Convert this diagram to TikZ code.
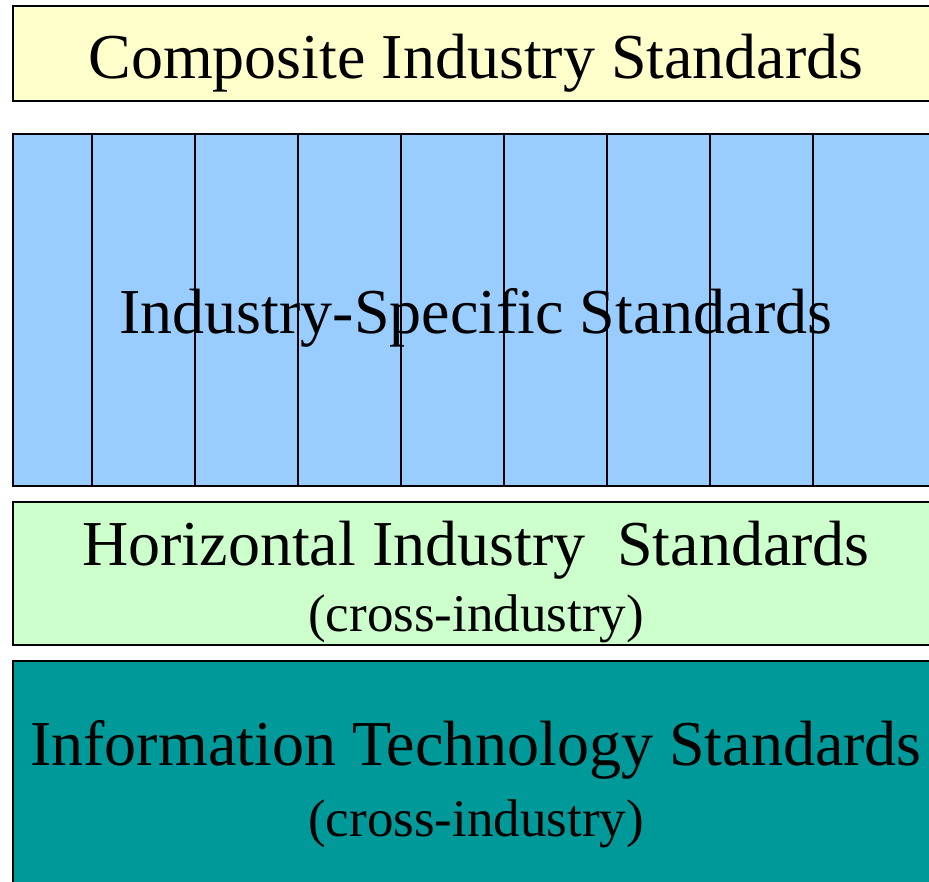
\documentclass[tikz,border=0pt]{standalone}
\usepackage{fontspec}
\setmainfont{Liberation Serif}
\usetikzlibrary{positioning}

\definecolor{compfill}{HTML}{FFFFCC}
\definecolor{specfill}{HTML}{99CCFF}
\definecolor{horfill}{HTML}{CCFFCC}
\definecolor{itfill}{HTML}{009999}

\begin{document}
\begin{tikzpicture}[
			x=1pt, y=-1pt,
			layer/.style = {draw, line width=2pt, rectangle, anchor=north west, minimum width=928pt, inner sep=0pt},
			big/.style = {font=\fontsize{64}{68}\selectfont, anchor=base},
			small/.style = {font=\fontsize{53}{57}\selectfont, anchor=base}
		]
		\useasboundingbox (0,0) rectangle (929,881);
		% The four layers.
		\node[layer, fill=compfill, minimum height=95pt] (comp) at (12,5) {};
		\node[layer, fill=specfill, minimum height=352pt] (spec) at (12,133) {};
		\node[layer, fill=horfill, minimum height=143pt] (hor) at (12,501) {};
		\node[layer, fill=itfill, minimum height=240pt] (it) at (12,660) {};
		% Columns of the industry layer.
		\foreach \i in {0,...,7}
			\draw[line width=1.5pt] ([xshift={80pt+103pt*\i}]spec.north west) -- ([xshift={80pt+103pt*\i}]spec.south west);
		% Texts.
		\node[big] (compt) at (476,78) {Composite Industry Standards};
		\node[big] (spect) at (476,333) {Industry-Specific Standards};
		\node[big] (hort) at (476,565) {Horizontal Industry\ \ Standards};
		\node[small] (hors) at (476,631) {(cross-industry)};
		\node[big] (itt) at (476,765) {Information Technology Standards};
		\node[small] (its) at (476,836) {(cross-industry)};
	\end{tikzpicture}
\end{document}
